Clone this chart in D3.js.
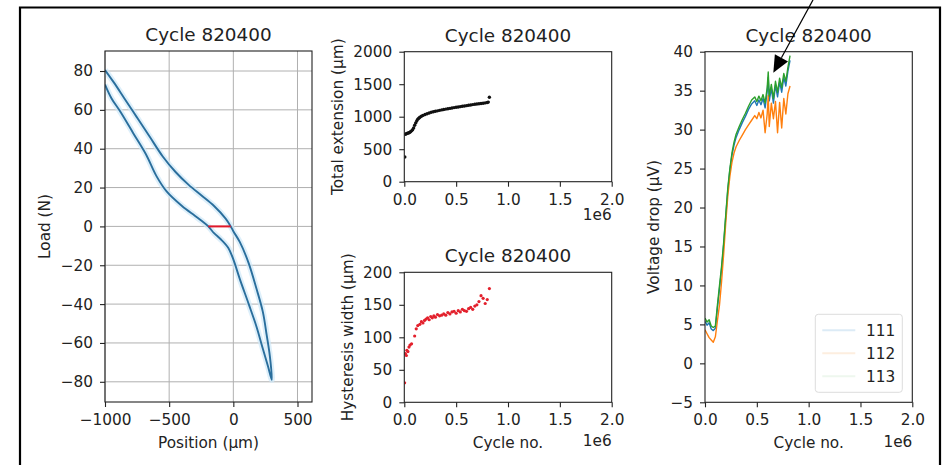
<!DOCTYPE html>
<html>
<head>
<meta charset="utf-8">
<script src="https://cdn.jsdelivr.net/npm/d3@7"></script>
<style>
  html, body { margin: 0; padding: 0; background: #fff; }
  svg text { font-family: "DejaVu Sans", sans-serif; fill: #222; }
</style>
</head>
<body>
<svg id="fig" width="944" height="465"></svg>
<script>
// ---- Cycle shown in every title ----
const cycleNow = 820400;

// ---- Load vs position loop (µm, N): loading branch then unloading branch ----
const loopPosition = [-1000, -930, -850, -750, -650, -550, -450, -350, -250, -150, -60, -20, 0, 50, 120, 180, 230, 260, 285, 300,
                      270, 230, 180, 120, 50, 0, -40, -100, -150, -195, -250, -300, -400, -520, -600, -680, -780, -880, -950, -1000];
const loopLoad     = [80.5, 74, 66, 56, 46, 36, 28, 21.5, 16, 10.5, 4, 0, -2.5, -8, -19, -32, -44, -56, -67, -79,
                      -72, -63, -51.5, -40, -27, -17, -11, -6.5, -3.5, 0, 3, 5.5, 10.5, 18, 26, 37, 48, 59, 66, 73];
// hysteresis width measured at zero load
const widthStart = -195, widthEnd = -20;

// ---- Total extension (µm) ----
const extCycles = [5000, 10000, 20000, 30000, 40000, 50000, 60000, 70000, 80000, 90000, 100000, 110000, 120000, 130000,
                   140000, 150000, 165000, 180000, 200000, 220000, 240000, 260000, 280000, 300000, 320000, 340000, 360000,
                   380000, 400000, 420000, 440000, 460000, 480000, 500000, 520000, 540000, 560000, 580000, 600000, 620000,
                   640000, 660000, 680000, 700000, 720000, 740000, 760000, 780000, 800000, 810000, 820400];
const extValues = [380, 730, 738, 745, 750, 758, 768, 782, 800, 828, 868, 905, 935, 960,
                   978, 992, 1006, 1020, 1035, 1046, 1058, 1068, 1076, 1083, 1090, 1098, 1105,
                   1111, 1117, 1122, 1128, 1134, 1140, 1146, 1150, 1155, 1160, 1165, 1170, 1176,
                   1181, 1186, 1191, 1196, 1200, 1204, 1208, 1212, 1218, 1225, 1300];

// ---- Hysteresis width (µm) ----
const hysCycles = [3000, 10000, 20000, 25000, 35000, 45000, 55000, 70000, 100000, 115000, 130000, 150000, 165000, 180000,
                   195000, 210000, 225000, 240000, 255000, 270000, 285000, 300000, 320000, 340000, 360000, 380000, 400000,
                   420000, 440000, 460000, 480000, 500000, 520000, 540000, 560000, 580000, 600000, 620000, 640000, 660000,
                   680000, 700000, 720000, 740000, 760000, 780000, 800000, 820400];
const hysValues = [30, 75, 72, 80, 78, 85, 88, 90, 102, 113, 118, 120, 124, 122,
                   126, 128, 130, 127, 132, 130, 133, 131, 135, 133, 134, 136, 134,
                   138, 136, 139, 140, 137, 141, 139, 143, 141, 140, 144, 146, 143,
                   148, 150, 155, 164, 160, 152, 158, 175];

// ---- Voltage drop (µV) per channel ----
const voltCycles = [0, 20000, 40000, 60000, 80000, 100000, 120000, 140000, 160000, 180000, 200000, 220000, 240000, 260000,
                    280000, 300000, 330000, 360000, 390000, 420000, 450000, 480000, 500000, 520000, 540000, 560000, 580000,
                    600000, 610000, 620000, 640000, 660000, 680000, 700000, 720000, 740000, 760000, 780000, 800000, 820400];
const volt111 = [5.4, 4.9, 5.2, 4.4, 4.2, 4.5, 7.1, 9.6, 12.1, 15.2, 18.8, 22.2, 24.8, 26.7, 28.0, 29.0, 30.0, 30.9, 31.7, 32.6,
                 33.3, 33.7, 33.1, 33.8, 33.2, 34.0, 32.8, 34.9, 36.7, 33.7, 35.3, 33.4, 35.7, 34.2, 36.1, 34.8, 36.7, 35.6, 37.5, 38.9];
const volt112 = [4.3, 3.8, 3.3, 3.0, 2.7, 3.4, 5.5, 7.5, 10.5, 14, 18, 21.5, 24, 25.8, 27, 27.8, 28.6, 29.3, 30, 30.6,
                 31.2, 31.8, 31.4, 32.2, 31.5, 32.5, 29.6, 32.0, 34.4, 30.4, 33.4, 31.4, 33.6, 29.6, 33.5, 30.2, 34.0, 32.0, 34.6, 35.6];
const volt113 = [5.8, 5.3, 5.6, 4.8, 4.6, 4.8, 7.5, 10, 12.5, 15.5, 19, 22.5, 25, 27, 28.4, 29.4, 30.4, 31.3, 32.1, 33.0,
                 33.8, 34.2, 33.6, 34.3, 33.7, 34.5, 33.4, 35.4, 37.4, 34.3, 35.8, 34.0, 36.2, 34.8, 36.6, 35.4, 37.2, 36.2, 38.0, 39.5];
const channelNames = ["111", "112", "113"];
const channelColors = ["#1f77b4", "#ff7f0e", "#2ca02c"];
const legendColors = ["#dcebf6", "#fdeedf", "#eef7ee"];

// ---- Tick values ----
const posTicks = [-1000, -500, 0, 500];
const loadTicks = [-80, -60, -40, -20, 0, 20, 40, 60, 80];
const cycleTicks = [0, 0.5e6, 1.0e6, 1.5e6, 2.0e6];
const extTicks = [0, 500, 1000, 1500, 2000];
const hysTicks = [0, 50, 100, 150, 200];
const voltTicks = [-5, 0, 5, 10, 15, 20, 25, 30, 35, 40];

// arrow annotation on the voltage panel (data units)
const arrowFrom = [1.042e6, 46.65];
const arrowTo = [0.659e6, 37.3];

const svg = d3.select("#fig");
const FONT = 15.3, TITLE = 18.4;
const fmtNum = d3.format("");
const fmtCycle = d => (d / 1e6).toFixed(1);

// outer figure frame
svg.append("path")
  .attr("d", "M20,470 L20,7.5 L940,7.5 L940,470")
  .attr("fill", "none").attr("stroke", "#000").attr("stroke-width", 2.2);

function panel(box, xDomain, yDomain) {
  const x = d3.scaleLinear().domain(xDomain).range([box.x0, box.x1]);
  const y = d3.scaleLinear().domain(yDomain).range([box.y1, box.y0]);
  const g = svg.append("g");
  const id = "clip" + Math.round(box.x0) + "_" + Math.round(box.y0);
  svg.append("clipPath").attr("id", id).append("rect")
    .attr("x", box.x0).attr("y", box.y0).attr("width", box.x1 - box.x0).attr("height", box.y1 - box.y0);
  return { x, y, g, box, clip: "url(#" + id + ")" };
}

function axes(p, xTicks, xFmt, yTicks, yFmt) {
  const { x, y, g, box } = p;
  const ax = g.append("g").attr("transform", `translate(0,${box.y1})`)
    .call(d3.axisBottom(x).tickValues(xTicks).tickFormat(xFmt).tickSize(5).tickPadding(7).tickSizeOuter(0));
  const ay = g.append("g").attr("transform", `translate(${box.x0},0)`)
    .call(d3.axisLeft(y).tickValues(yTicks).tickFormat(yFmt).tickSize(5).tickPadding(7).tickSizeOuter(0));
  [ax, ay].forEach(a => {
    a.select(".domain").remove();
    a.selectAll(".tick line").attr("stroke", "#222").attr("stroke-width", 1.1);
    a.selectAll(".tick text").attr("font-size", FONT).attr("font-family", "DejaVu Sans").attr("fill", "#222");
  });
  g.append("rect").attr("x", box.x0).attr("y", box.y0)
    .attr("width", box.x1 - box.x0).attr("height", box.y1 - box.y0)
    .attr("fill", "none").attr("stroke", "#222").attr("stroke-width", 1.1);
}

function title(p, text) {
  p.g.append("text").attr("x", (p.box.x0 + p.box.x1) / 2).attr("y", p.box.y0 - 10)
    .attr("text-anchor", "middle").attr("font-size", TITLE).text(text);
}
function ylabel(p, text, cx) {
  const cy = (p.box.y0 + p.box.y1) / 2;
  p.g.append("text").attr("transform", `translate(${cx},${cy}) rotate(-90)`)
    .attr("text-anchor", "middle").attr("dy", "0.35em").attr("font-size", FONT).text(text);
}
function xlabel(p, text, cy) {
  p.g.append("text").attr("x", (p.box.x0 + p.box.x1) / 2).attr("y", cy)
    .attr("text-anchor", "middle").attr("dy", "0.35em").attr("font-size", FONT).text(text);
}
function offsetLabel(p, cy) {
  p.g.append("text").attr("x", p.box.x1).attr("y", cy)
    .attr("text-anchor", "end").attr("dy", "0.35em").attr("font-size", FONT).text("1e6");
}

// ---------- Panel 1: load vs position ----------
const p1 = panel({ x0: 105, x1: 312, y0: 51, y1: 402 }, [-1000, 613], [-90.4, 90.3]);
// grid
p1.g.append("g").selectAll("line").data(posTicks).join("line")
  .attr("x1", d => p1.x(d)).attr("x2", d => p1.x(d)).attr("y1", p1.box.y0).attr("y2", p1.box.y1)
  .attr("stroke", "#b0b0b0").attr("stroke-width", 1);
p1.g.append("g").selectAll("line").data(loadTicks).join("line")
  .attr("y1", d => p1.y(d)).attr("y2", d => p1.y(d)).attr("x1", p1.box.x0).attr("x2", p1.box.x1)
  .attr("stroke", "#b0b0b0").attr("stroke-width", 1);
const loopPts = loopPosition.map((v, i) => [v, loopLoad[i]]);
const loopLine = d3.line().x(d => p1.x(d[0])).y(d => p1.y(d[1])).curve(d3.curveCatmullRom.alpha(0.5));
const plotG1 = p1.g.append("g").attr("clip-path", p1.clip);
plotG1.append("path").attr("d", loopLine(loopPts)).attr("fill", "none")
  .attr("stroke", "#cfe8f8").attr("stroke-width", 6).attr("opacity", 0.7);
plotG1.append("path").attr("d", loopLine(loopPts)).attr("fill", "none")
  .attr("stroke", "#2a6e9c").attr("stroke-width", 1.9);
plotG1.append("line").attr("x1", p1.x(widthStart)).attr("x2", p1.x(widthEnd))
  .attr("y1", p1.y(0)).attr("y2", p1.y(0)).attr("stroke", "#e0182a").attr("stroke-width", 2);
axes(p1, posTicks, fmtNum, loadTicks, fmtNum);
title(p1, "Cycle " + cycleNow);
ylabel(p1, "Load (N)", 45);
xlabel(p1, "Position (µm)", 443);

// ---------- Panel 2: total extension ----------
const p2 = panel({ x0: 404.3, x1: 611.7, y0: 51.7, y1: 181.7 }, [0, 2e6], [0, 2000]);
p2.g.append("g").attr("clip-path", p2.clip).selectAll("circle")
  .data(extCycles.map((c, i) => [c, extValues[i]])).join("circle")
  .attr("cx", d => p2.x(d[0])).attr("cy", d => p2.y(d[1])).attr("r", 1.7).attr("fill", "#111");
axes(p2, cycleTicks, fmtCycle, extTicks, fmtNum);
title(p2, "Cycle " + cycleNow);
ylabel(p2, "Total extension (µm)", 337.5);
offsetLabel(p2, 215);

// ---------- Panel 3: hysteresis width ----------
const p3 = panel({ x0: 404.3, x1: 611.7, y0: 272.3, y1: 402.3 }, [0, 2e6], [0, 200]);
p3.g.append("g").attr("clip-path", p3.clip).selectAll("circle")
  .data(hysCycles.map((c, i) => [c, hysValues[i]])).join("circle")
  .attr("cx", d => p3.x(d[0])).attr("cy", d => p3.y(d[1])).attr("r", 1.6).attr("fill", "#e3202c");
axes(p3, cycleTicks, fmtCycle, hysTicks, fmtNum);
title(p3, "Cycle " + cycleNow);
ylabel(p3, "Hysteresis width (µm)", 348);
xlabel(p3, "Cycle no.", 442.5);
offsetLabel(p3, 441);

// ---------- Panel 4: voltage drop ----------
const p4 = panel({ x0: 705, x1: 912.3, y0: 51.7, y1: 402.3 }, [0, 2e6], [-5, 40]);
const voltSeries = [volt111, volt112, volt113];
const vLine = d3.line().x((d, i) => p4.x(voltCycles[i])).y(d => p4.y(d));
const plotG4 = p4.g.append("g").attr("clip-path", p4.clip);
voltSeries.forEach((s, k) => {
  plotG4.append("path").attr("d", vLine(s)).attr("fill", "none")
    .attr("stroke", channelColors[k]).attr("stroke-width", 1.4).attr("stroke-linejoin", "round");
});
axes(p4, cycleTicks, fmtCycle, voltTicks, fmtNum);
title(p4, "Cycle " + cycleNow);
ylabel(p4, "Voltage drop (µV)", 654);
xlabel(p4, "Cycle no.", 443);
offsetLabel(p4, 441.5);

// legend
const lg = p4.g.append("g");
const lgX1 = p4.box.x1 - 10, lgY1 = p4.box.y1 - 10, lgW = 87, lgH = 78;
lg.append("rect").attr("x", lgX1 - lgW).attr("y", lgY1 - lgH).attr("width", lgW).attr("height", lgH)
  .attr("rx", 3).attr("fill", "#fff").attr("stroke", "#dcdcdc").attr("stroke-width", 1);
channelNames.forEach((n, k) => {
  const cy = lgY1 - lgH + 16 + k * 23;
  lg.append("line").attr("x1", lgX1 - lgW + 7).attr("x2", lgX1 - lgW + 40)
    .attr("y1", cy).attr("y2", cy).attr("stroke", legendColors[k]).attr("stroke-width", 2);
  lg.append("text").attr("x", lgX1 - 7).attr("y", cy).attr("dy", "0.35em")
    .attr("text-anchor", "end").attr("font-size", FONT).text(n);
});

// arrow pointing at the latest readings
const ax0 = p4.x(arrowFrom[0]), ay0 = p4.y(arrowFrom[1]);
const ax1 = p4.x(arrowTo[0]), ay1 = p4.y(arrowTo[1]);
const len = Math.hypot(ax1 - ax0, ay1 - ay0);
const ux = (ax1 - ax0) / len, uy = (ay1 - ay0) / len;
const headL = 17, headW = 7.5;
const bx = ax1 - ux * headL, by = ay1 - uy * headL;
svg.append("line").attr("x1", ax0).attr("y1", ay0).attr("x2", bx).attr("y2", by)
  .attr("stroke", "#000").attr("stroke-width", 1.2);
svg.append("path")
  .attr("d", `M${ax1},${ay1} L${bx - uy * headW},${by + ux * headW} L${bx + uy * headW},${by - ux * headW} Z`)
  .attr("fill", "#000");
</script>
</body>
</html>
